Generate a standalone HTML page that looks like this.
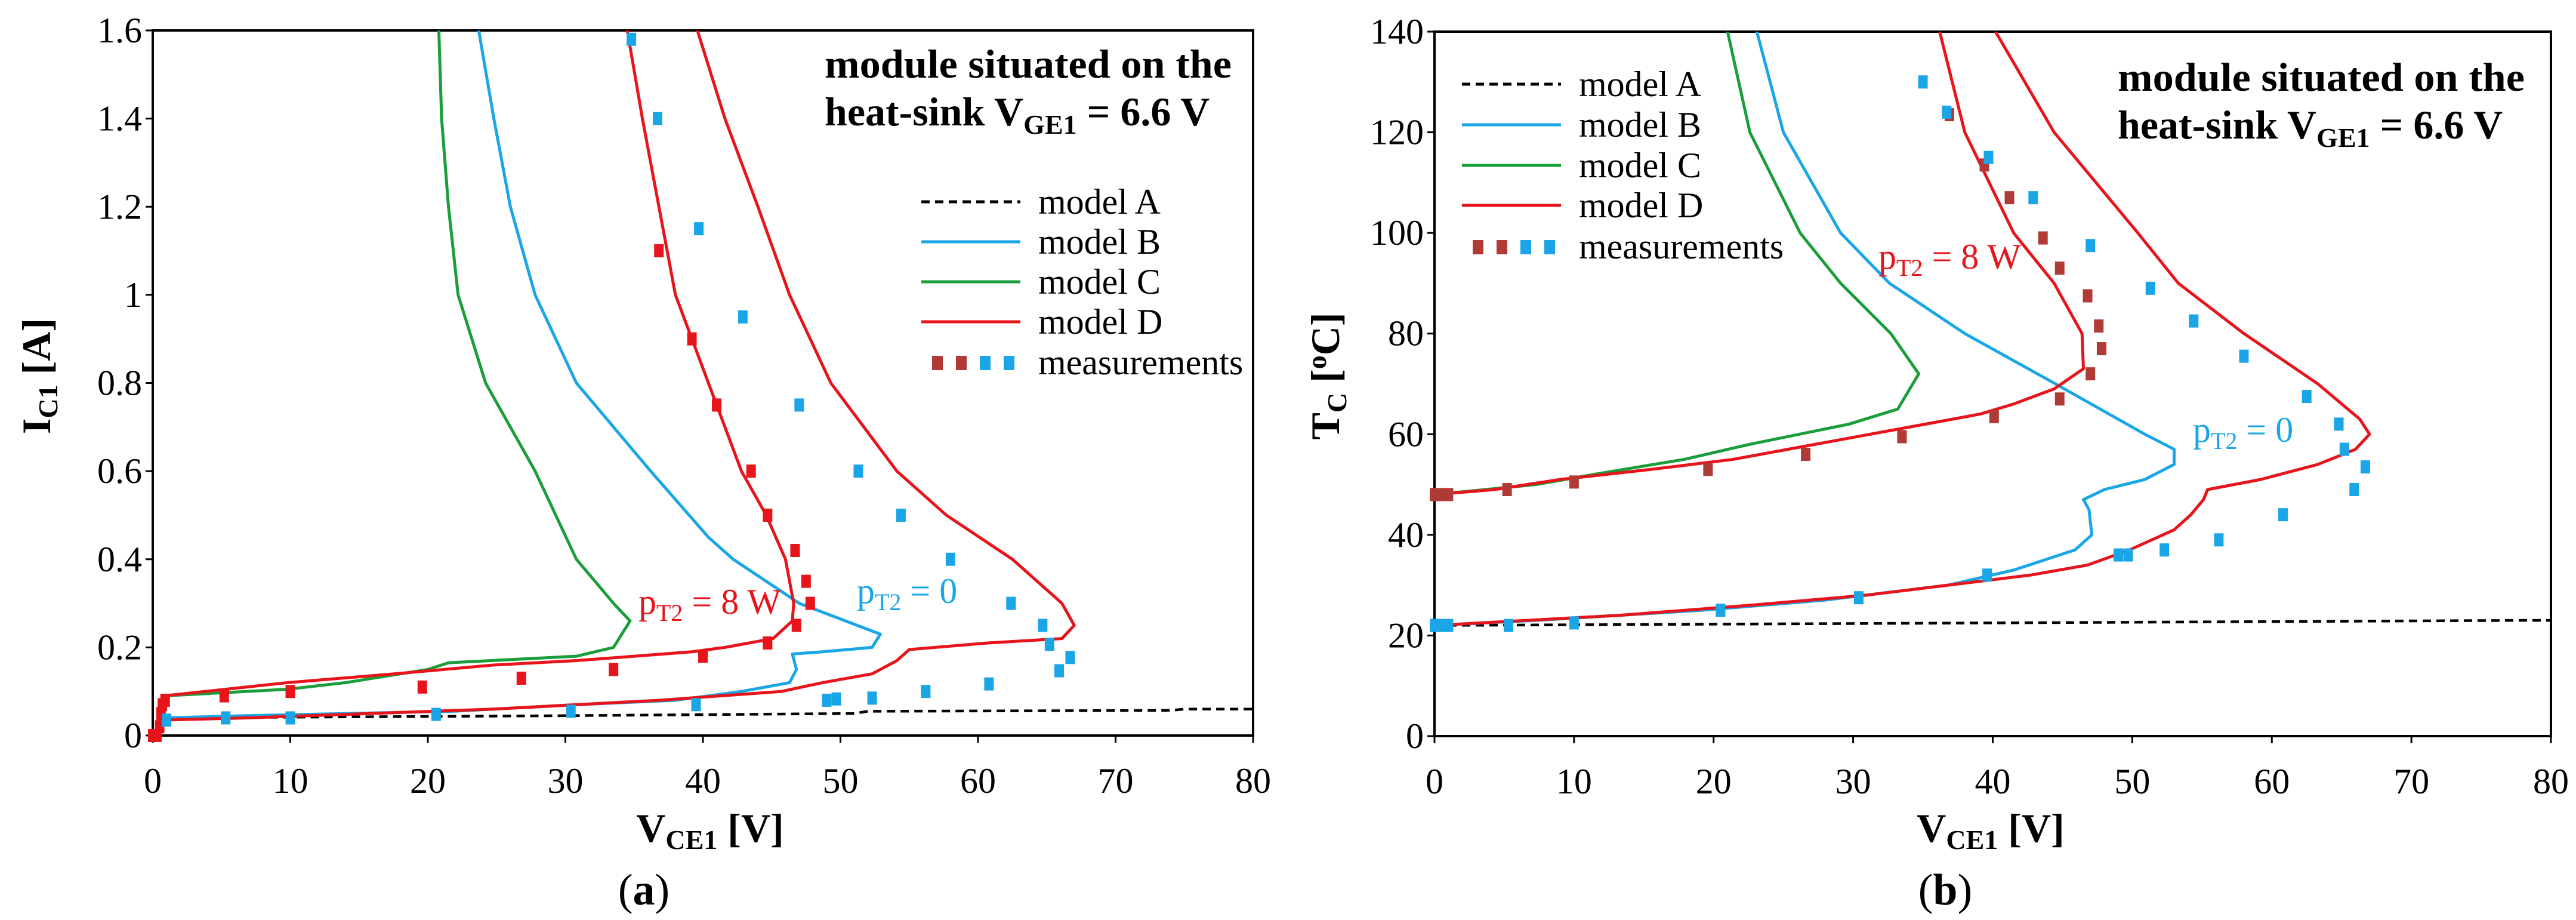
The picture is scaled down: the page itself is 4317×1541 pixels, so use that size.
<!DOCTYPE html>
<html><head><meta charset="utf-8"><style>
html,body{margin:0;padding:0;background:#fff}
svg{display:block}
text{font-family:"Liberation Serif",serif}
</style></head><body>
<svg id="chart" width="4317" height="1541" viewBox="0 0 4317 1541" xmlns="http://www.w3.org/2000/svg"></svg>
<script>
// ---------- Panel (a) data: I_C1 vs V_CE1 ----------
const aXTicks=[0,10,20,30,40,50,60,70,80];
const aYTicks=[0,0.2,0.4,0.6,0.8,1,1.2,1.4,1.6];
const aYTickLabels=["0","0.2","0.4","0.6","0.8","1","1.2","1.4","1.6"];
const aModelA=[[0.5,0.04],[30,0.045],[51,0.05],[52,0.055],[74,0.057],[75,0.06],[80,0.06]];
const aModelB=[[0.3,0],[0.8,0.04],[6.8,0.045],[21.8,0.055],[30.8,0.07],[38,0.08],[42.8,0.1],[46.3,0.12],[46.8,0.15],[46.5,0.185],[48.7,0.19],[52.3,0.2],[52.9,0.23],[47,0.3],[42.2,0.4],[40.4,0.45],[36.2,0.6],[30.8,0.8],[27.8,1.0],[26,1.2],[24.8,1.4],[23.7,1.6]];
const aModelC=[[0.4,0.02],[0.8,0.09],[9.8,0.105],[14,0.12],[20,0.15],[21.5,0.165],[30.8,0.18],[33.5,0.2],[34.7,0.26],[33.5,0.3],[30.8,0.4],[27.8,0.6],[24.2,0.8],[22.2,1.0],[21.5,1.2],[21,1.4],[20.8,1.6]];
const aModelD8=[[0.4,0.02],[0.8,0.09],[3.8,0.1],[9.8,0.12],[17.6,0.14],[24.8,0.16],[30.8,0.17],[39.2,0.19],[41.6,0.2],[45.1,0.22],[46.5,0.26],[46.6,0.3],[46,0.4],[44.6,0.5],[42.8,0.6],[40.4,0.8],[38,1.0],[36.8,1.2],[35.6,1.4],[34.5,1.6]];
const aModelD0=[[0.3,0],[0.8,0.035],[6.8,0.04],[15.8,0.05],[24.8,0.06],[36.8,0.08],[45.7,0.1],[48.7,0.12],[52.3,0.14],[54.1,0.17],[55,0.195],[60.7,0.21],[66.1,0.22],[67,0.25],[66.1,0.3],[62.5,0.4],[57.7,0.5],[54.1,0.6],[49.3,0.8],[46.3,1.0],[44,1.2],[41.6,1.4],[39.6,1.6]];
const aMeasRed=[[0,0],[0.3,0],[0.5,0.02],[0.6,0.05],[0.7,0.07],[0.9,0.08],[5.2,0.09],[10,0.1],[19.6,0.11],[26.8,0.13],[33.5,0.15],[40,0.18],[44.7,0.21],[46.8,0.25],[47.8,0.3],[47.5,0.35],[46.7,0.42],[44.7,0.5],[43.5,0.6],[41,0.75],[39.2,0.9],[36.8,1.1]];
const aMeasBlue=[[1,0.035],[5.3,0.04],[10,0.04],[20.6,0.048],[30.4,0.055],[39.5,0.07],[49,0.08],[49.7,0.083],[52.3,0.085],[56.2,0.1],[60.8,0.117],[65.9,0.147],[66.7,0.177],[65.2,0.207],[64.7,0.25],[62.4,0.3],[58,0.4],[54.4,0.5],[51.3,0.6],[47,0.75],[42.9,0.95],[39.7,1.15],[36.7,1.4],[34.8,1.58]];

// ---------- Panel (b) data: T_C vs V_CE1 ----------
const bXTicks=[0,10,20,30,40,50,60,70,80];
const bYTicks=[0,20,40,60,80,100,120,140];
const bModelA=[[0,22],[40,22.5],[78,23],[80,23]];
const bModelB=[[0,22],[7.3,23],[19.1,25],[27.9,27],[36.8,30],[41.5,33],[45.9,37],[47.1,40],[46.9,45],[46.5,47],[48,49],[50.9,51],[53,54],[53,57],[50.9,60],[44.5,70],[38,80],[32.6,90],[29.1,100],[25,120],[23.1,140]];
const bModelC=[[0,48],[7.3,50],[11.4,52],[17.9,55],[22.6,58],[29.7,62],[33.2,65],[34.7,72],[32.7,80],[29.1,90],[26.2,100],[22.6,120],[21,140]];
const bModelD8=[[0,48],[4.3,49],[9,51],[15.5,53],[21.4,55],[27.3,58],[33.2,61],[39.1,64],[41.5,66],[44.4,69],[46.5,73],[46.4,80],[44.4,90],[41.5,100],[38,120],[36.2,140]];
const bModelD0=[[0,22],[13.2,24],[22.6,26],[30.9,28],[36.8,30],[42.7,32],[46.8,34],[49.8,37],[53,41],[54.2,44],[55.1,47],[55.4,49],[59.2,51],[63.3,54],[66,57],[67,60],[66.3,63],[63.3,70],[58,80],[53.3,90],[50.4,100],[44.4,120],[40.2,140]];
const bMeasBrown=[[0,48],[0.5,48],[1,48],[5.2,49],[10,50.5],[19.6,53],[26.6,56],[33.5,59.5],[40.1,63.5],[44.8,67],[47,72],[47.8,77],[47.6,81.5],[46.8,87.5],[44.8,93],[43.6,99],[41.2,107],[39.4,113.5],[36.9,123.5]];
const bMeasBlue=[[0,22],[0.5,22],[1,22],[5.3,22],[10,22.5],[20.5,25],[30.4,27.5],[39.6,32],[49,36],[49.7,36],[52.3,37],[56.2,39],[60.8,44],[65.9,49],[66.7,53.5],[65.2,57],[64.8,62],[62.5,67.5],[58,75.5],[54.4,82.5],[51.3,89],[47,97.5],[42.9,107],[39.7,115],[36.7,124],[35,130]];

const NS="http://www.w3.org/2000/svg";
const svg=document.getElementById('chart');
const BLUE="#1aa6e6",GREEN="#1a9e3a",RED="#e8141b",BROWN="#b03a35";
function mk(tag,attrs,parent){const e=document.createElementNS(NS,tag);for(const k in attrs)e.setAttribute(k,attrs[k]);(parent||svg).appendChild(e);return e;}

function panel(P){
  const g=mk('g',{});
  
  
  const sx=v=>P.x0+(v-P.xmin)/(P.xmax-P.xmin)*(P.x1-P.x0);
  const sy=v=>P.y0-(v-P.ymin)/(P.ymax-P.ymin)*(P.y0-P.y1);
  const clip='clip-'+P.name;
  const cp=mk('clipPath',{id:clip},g);mk('rect',{x:P.x0,y:P.y1,width:P.x1-P.x0,height:P.y0-P.y1},cp);
  const frame=mk('rect',{x:P.x0,y:P.y1,width:P.x1-P.x0,height:P.y0-P.y1,fill:'none',stroke:'#000','stroke-width':4},g);
  
  
  P.xt.forEach(v=>{
    mk('line',{x1:sx(v),x2:sx(v),y1:P.y0,y2:P.y0+12,stroke:'#000','stroke-width':3},g);
    const t=mk('text',{x:sx(v),y:P.y0+96,'font-size':60,'text-anchor':'middle'},g);t.textContent=v;
    
    
  });
  P.yt.forEach((v,i)=>{
    mk('line',{x1:P.x0-12,x2:P.x0,y1:sy(v),y2:sy(v),stroke:'#000','stroke-width':3},g);
    const t=mk('text',{x:P.x0-18,y:sy(v)+20,'font-size':60,'text-anchor':'end'},g);t.textContent=P.ytl[i];
    
    
  });
  const pg=mk('g',{'clip-path':'url(#'+clip+')'},g);
  P.series.forEach(s=>{
    const p=mk('polyline',{points:s.d.map(q=>sx(q[0])+','+sy(q[1])).join(' '),fill:'none',stroke:s.c,'stroke-width':s.dash?4.5:5,'stroke-dasharray':s.dash?'14 9':'none','stroke-linejoin':'round'},pg);
    
    
  });
  P.meas.forEach(s=>{
    s.d.forEach(q=>{
      const r=mk('rect',{x:sx(q[0])-8,y:sy(q[1])-11,width:16,height:22,fill:s.c},g);
      
      
    });
  });
  return {g,sx,sy};
}

const A=panel({name:'panel-a',x0:256,x1:2100,y0:1232,y1:51,xmin:0,xmax:80,ymin:0,ymax:1.6,xt:aXTicks,yt:aYTicks,ytl:aYTickLabels,
  series:[{d:aModelA,c:'#000',dash:true,n:'model-a-line'},{d:aModelC,c:GREEN,n:'model-c-line'},{d:aModelB,c:BLUE,n:'model-b-line'},{d:aModelD8,c:RED,n:'model-d-8w-line'},{d:aModelD0,c:RED,n:'model-d-0w-line'}],
  meas:[{d:aMeasRed,c:RED,n:'measurement-point-8w'},{d:aMeasBlue,c:BLUE,n:'measurement-point-0w'}]});
const B=panel({name:'panel-b',x0:2404,x1:4275,y0:1233,y1:53,xmin:0,xmax:80,ymin:0,ymax:140,xt:bXTicks,yt:bYTicks,ytl:bYTicks.map(String),
  series:[{d:bModelA,c:'#000',dash:true,n:'model-a-line'},{d:bModelC,c:GREEN,n:'model-c-line'},{d:bModelB,c:BLUE,n:'model-b-line'},{d:bModelD8,c:RED,n:'model-d-8w-line'},{d:bModelD0,c:RED,n:'model-d-0w-line'}],
  meas:[{d:bMeasBrown,c:BROWN,n:'measurement-point-8w'},{d:bMeasBlue,c:BLUE,n:'measurement-point-0w'}]});

function legend(x,yRows,name){
  const g=mk('g',{});
  
  
  const items=[['model A','#000',true],['model B',BLUE],['model C',GREEN],['model D',RED],['measurements']];
  items.forEach((it,i)=>{
    const y=yRows[i];
    if(i<4){mk('line',{x1:x,x2:x+166,y1:y,y2:y,stroke:it[1],'stroke-width':5,'stroke-dasharray':it[2]?'14 9':'none'},g);}
    else{[BROWN,BROWN,BLUE,BLUE].forEach((c,k)=>mk('rect',{x:x+18+k*40,y:y-11,width:18,height:24,fill:c},g));}
    const t=mk('text',{x:x+196,y:y+20,'font-size':60},g);t.textContent=it[0];
    
    
  });
}
legend(1544,[338,405,472,539,607],'legend-a');
legend(2450,[141,209,277,344,413],'legend-b');
</script>
<svg style="position:absolute;left:0;top:0" width="4317" height="1541">
<g font-family="Liberation Serif, serif">
<text x="1382" y="130" font-size="68" font-weight="bold" textLength="682" lengthAdjust="spacingAndGlyphs">module situated on the</text>
<text x="1382" y="210" font-size="68" font-weight="bold">heat-sink V<tspan font-size="46" dy="14">GE1</tspan><tspan dy="-14"> = 6.6 V</tspan></text>
<text x="3549" y="152" font-size="68" font-weight="bold" textLength="682" lengthAdjust="spacingAndGlyphs">module situated on the</text>
<text x="3549" y="232" font-size="68" font-weight="bold">heat-sink V<tspan font-size="46" dy="14">GE1</tspan><tspan dy="-14"> = 6.6 V</tspan></text>
<text x="1070" y="1028" font-size="60" fill="#e8141b">p<tspan font-size="40" dy="12">T2</tspan><tspan dy="-12"> = 8 W</tspan></text>
<text x="1436" y="1010" font-size="60" fill="#1aa6e6">p<tspan font-size="40" dy="12">T2</tspan><tspan dy="-12"> = 0</tspan></text>
<text x="3148" y="450" font-size="60" fill="#e8141b">p<tspan font-size="40" dy="12">T2</tspan><tspan dy="-12"> = 8 W</tspan></text>
<text x="3675" y="740" font-size="60" fill="#1aa6e6">p<tspan font-size="40" dy="12">T2</tspan><tspan dy="-12"> = 0</tspan></text>
<text transform="translate(84,630) rotate(-90)" font-size="68" font-weight="bold" text-anchor="middle">I<tspan font-size="46" dy="12">C1</tspan><tspan dy="-12"> [A]</tspan></text>
<text transform="translate(2244,630) rotate(-90)" font-size="68" font-weight="bold" text-anchor="middle">T<tspan font-size="46" dy="12">C</tspan><tspan dy="-12"> [</tspan><tspan font-size="46" dy="-22">o</tspan><tspan dy="22">C]</tspan></text>
<text x="1190" y="1410" font-size="68" font-weight="bold" text-anchor="middle">V<tspan font-size="46" dy="12">CE1</tspan><tspan dy="-12"> [V]</tspan></text>
<text x="3336" y="1410" font-size="68" font-weight="bold" text-anchor="middle">V<tspan font-size="46" dy="12">CE1</tspan><tspan dy="-12"> [V]</tspan></text>
<text x="1079" y="1515" font-size="74" text-anchor="middle">(<tspan font-weight="bold">a</tspan>)</text>
<text x="3260" y="1515" font-size="74" text-anchor="middle">(<tspan font-weight="bold">b</tspan>)</text>
</g>
</svg>
</body></html>
